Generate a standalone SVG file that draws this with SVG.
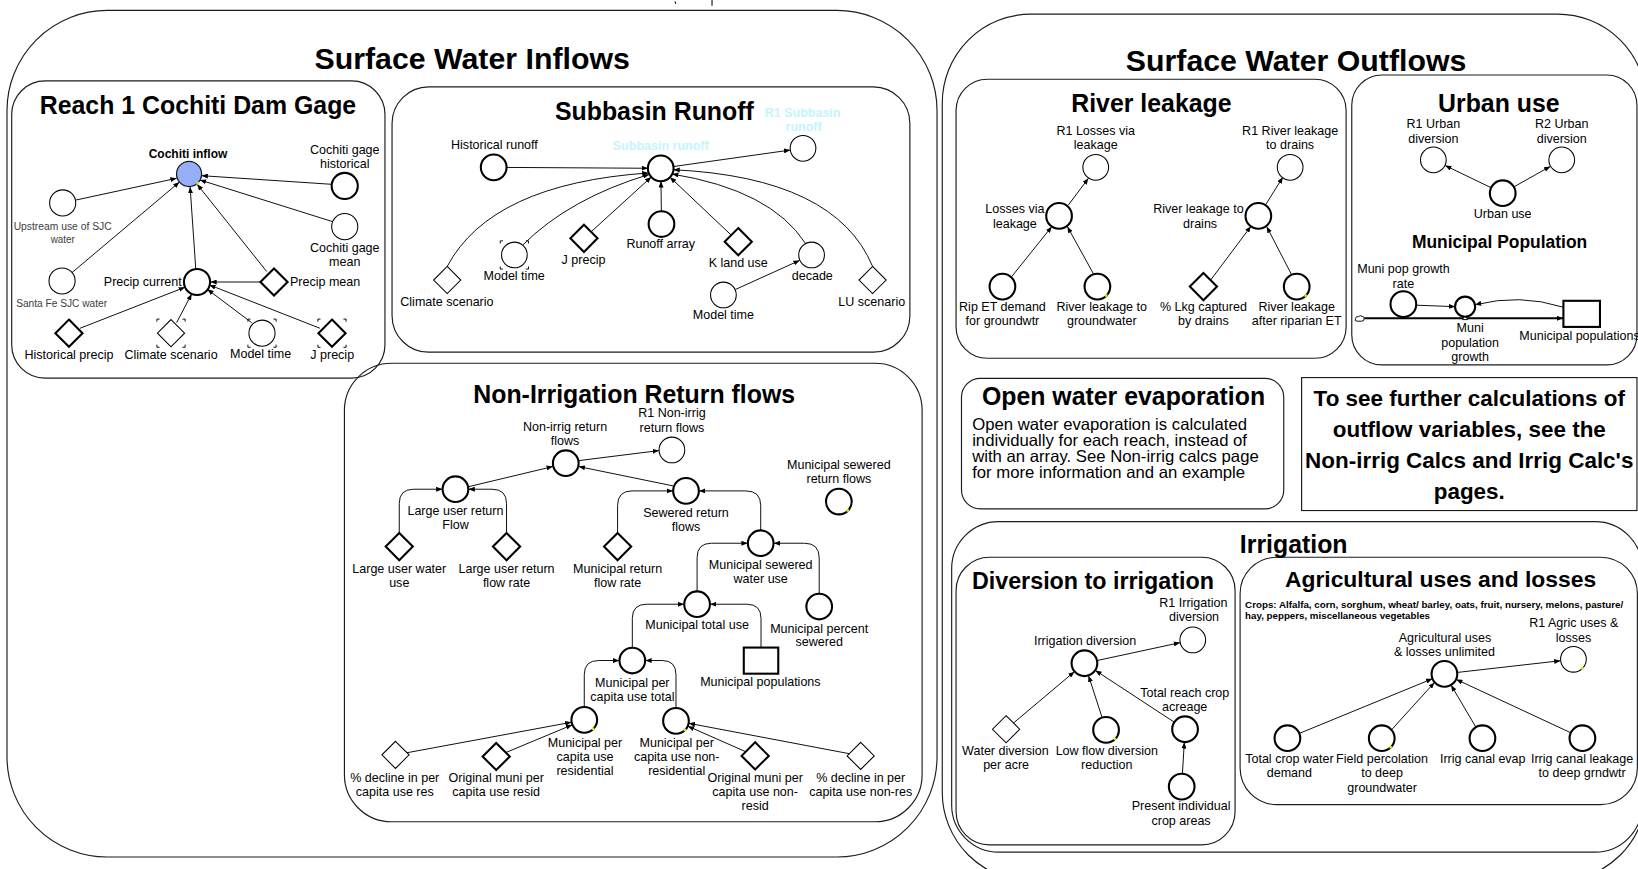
<svg xmlns="http://www.w3.org/2000/svg" width="1638" height="869" viewBox="0 0 1638 869">
<defs>
<style>
text{font-family:"Liberation Sans",Arial,Helvetica,sans-serif;fill:#000}
.l{font-size:12px;text-anchor:middle}
.ls{font-size:12px;text-anchor:start}
.le{font-size:12px;text-anchor:end}
.sm{font-size:11px;text-anchor:middle;fill:#3c3c3c}
.t1{font-size:29px;font-weight:bold;text-anchor:middle}
.t2{font-size:23.8px;font-weight:bold;text-anchor:middle}
.t3{font-size:16.7px;font-weight:bold;text-anchor:middle}
.big{font-size:21.5px;font-weight:bold;text-anchor:middle}
.body{font-size:16px;text-anchor:start}
.crops{font-size:9.2px;font-weight:bold;text-anchor:start}
.pale{font-size:12px;font-weight:bold;text-anchor:middle;fill:#c4f4fc}
.fr{fill:none;stroke:#1c1c1c;stroke-width:1.1}
.n{fill:#fff;stroke:#000;stroke-width:1}
.nb{fill:#fff;stroke:#000;stroke-width:2}
.c{fill:none;stroke:#000;stroke-width:0.9;marker-end:url(#ah)}
.pipe{fill:none;stroke:#000;stroke-width:2;marker-end:url(#ah)}
.yd{fill:#e6e600}
</style>
<marker id="ah" viewBox="0 0 10 8" refX="10" refY="4" markerWidth="6" markerHeight="4.8" markerUnits="userSpaceOnUse" orient="auto"><path d="M0,0 L10,4 L0,8 z" fill="#000"/></marker>
<path id="dm" d="M0,-13 L13,0 L0,13 L-13,0 z"/>
<path id="ghost" d="M-13.5,-11v-2.5h2.5 M11,-13.5h2.5v2.5 M13.5,11v2.5h-2.5 M-11,13.5h-2.5v-2.5" fill="none" stroke="#000" stroke-width="0.9"/>
</defs>
<rect x="0" y="0" width="1638" height="869" fill="#fff"/>
<g transform="scale(1.04464 1.04447)">

<!-- section frames -->
<g id="frames">
<path d="M646,1.5 l1,2 M681.6,0 v5.5" fill="none" stroke="#000" stroke-width="1"/>
<rect class="fr" x="6.7" y="10" width="890.3" height="810.5" rx="96"/>
<rect class="fr" x="11.2" y="77.5" width="357.3" height="284.5" rx="32"/>
<rect class="fr" x="375.3" y="83.2" width="495.7" height="254" rx="35"/>
<rect class="fr" x="329.7" y="347.8" width="553" height="439" rx="45"/>
<rect class="fr" x="902" y="13.5" width="674" height="830" rx="85"/>
<rect class="fr" x="915.2" y="75.9" width="373.4" height="267.1" rx="30"/>
<rect class="fr" x="1294" y="71.8" width="273" height="277.6" rx="29"/>
<rect class="fr" x="920.4" y="362.2" width="308.5" height="125" rx="18"/>
<rect class="fr" x="1246" y="361.5" width="321" height="127.3"/>
<rect class="fr" x="911" y="499.4" width="661" height="316.4" rx="45"/>
<rect class="fr" x="915.2" y="533.5" width="267.1" height="275.4" rx="32"/>
<rect class="fr" x="1187.1" y="533.5" width="380.3" height="236.8" rx="35"/>
</g>

<g id="titles">
<text class="t1" x="452" y="66.5">Surface Water Inflows</text>
<text class="t1" x="1240.7" y="67.7">Surface Water Outflows</text>
<text class="t2" x="189.5" y="109.5">Reach 1 Cochiti Dam Gage</text>
<text class="t2" x="626.4" y="114.5">Subbasin Runoff</text>
<text class="t2" x="607.1" y="385.4">Non-Irrigation Return flows</text>
<text class="t2" x="1102.2" y="106.9">River leakage</text>
<text class="t2" x="1434.8" y="106.9">Urban use</text>
<text class="t3" x="1435.5" y="237.7">Municipal Population</text>
<text class="t2" x="1075.5" y="388">Open water evaporation</text>
<text class="t2" x="1238.4" y="529.1">Irrigation</text>
<text class="t2" x="1046.2" y="564" style="font-size:22.3px">Diversion to irrigation</text>
<text class="t2" x="1379" y="561.6" style="font-size:21.9px">Agricultural uses and losses</text>
</g>

<g id="notes">
<text class="body"><tspan x="930.6" y="411.5">Open water evaporation is calculated</tspan><tspan x="930.6" y="426.8">individually for each reach, instead of</tspan><tspan x="930.6" y="442.1">with an array.  See Non-irrig calcs page</tspan><tspan x="930.6" y="457.4">for more information and an example</tspan></text>
<text class="big"><tspan x="1406.5" y="388.5">To see further calculations of</tspan><tspan x="1406.5" y="418.3">outflow variables, see the</tspan><tspan x="1406.5" y="448.1">Non-irrig Calcs and Irrig Calc's</tspan><tspan x="1406.5" y="477.5">pages.</tspan></text>
<text class="crops" x="1191.9" y="582.4" textLength="362" lengthAdjust="spacingAndGlyphs">Crops:  Alfalfa, corn, sorghum, wheat/ barley, oats, fruit, nursery, melons, pasture/</text>
<text class="crops" x="1191.9" y="592.9" textLength="177" lengthAdjust="spacingAndGlyphs">hay, peppers, miscellaneous vegetables</text>
</g>

<!-- links between variables -->
<g id="connectors">
<path class="c" d="M72.8,191.5 L169.1,170.7"/>
<path class="c" d="M69,260.9 L171.8,174.3"/>
<path class="c" d="M187.4,257.5 L182,179"/>
<path class="c" d="M255.3,260 L188.7,176.4"/>
<path class="c" d="M318.1,176.5 L193,168.2"/>
<path class="c" d="M318.4,212.2 L191.4,172.3"/>
<path class="c" d="M249.3,270 L201.4,270"/>
<path class="c" d="M76.6,314.3 L177.1,275"/>
<path class="c" d="M169.1,308.9 L183.5,281.4"/>
<path class="c" d="M240.9,308.9 L198.5,277"/>
<path class="c" d="M306.3,314.3 L200.4,272.8"/>

<path class="c" d="M484.6,160.3 L620.3,161.1"/>
<path class="c" d="M644.3,159.5 L756.4,143.7"/>
<path class="c" d="M633.1,201.9 L632.7,173.6"/>
<path class="c" d="M565.8,222 L623.4,169.5"/>
<path class="c" d="M700,225.1 L641.4,169.7"/>
<path class="c" d="M703.9,277.2 L765.5,249.3"/>
<path class="c" d="M428.1,255.1 Q470,176 620.7,165.6"/>
<path class="c" d="M500.5,234.5 Q545,190 621.4,167"/>
<path class="c" d="M771,233 Q738,182 643.4,166.6"/>
<path class="c" d="M835.3,255.1 Q800,170 644.7,162.5"/>

<path class="c" d="M554,441 L630.8,431.4"/>
<path class="c" d="M448.8,465.9 L529.2,446.7"/>
<path class="c" d="M644.3,465.2 L554,446.7"/>
<path class="c" d="M382.2,510.3 V482 Q382.2,468.4 396,468.4 H423.5"/>
<path class="c" d="M484.9,510.3 V482 Q484.9,468.4 471,468.4 H448.5"/>
<path class="c" d="M591.2,510.3 V484 Q591.2,470 605,470 H644.2"/>
<path class="c" d="M728.2,507.6 V484 Q728.2,470 714,470 H669.2"/>
<path class="c" d="M667.3,566 V534 Q667.3,520.1 681,520.1 H715.7"/>
<path class="c" d="M784.2,568.2 V534 Q784.2,520.1 770,520.1 H740.7"/>
<path class="c" d="M605.3,619.9 V592 Q605.3,578.5 619,578.5 H654.8"/>
<path class="c" d="M728.5,620 V592 Q728.5,578.5 715,578.5 H679.8"/>
<path class="c" d="M559.3,676.7 V646 Q559.3,632.4 573,632.4 H592.8"/>
<path class="c" d="M647.1,677.7 V646 Q647.1,632.4 634,632.4 H617.8"/>
<path class="c" d="M389.6,720.7 L547,691.5"/>
<path class="c" d="M484.2,720.5 L547.8,694"/>
<path class="c" d="M713.9,719.7 L658.5,695.3"/>
<path class="c" d="M813,721.6 L659.4,692.5"/>

<path class="c" d="M1022.8,196.2 L1041.9,170.7"/>
<path class="c" d="M968.5,264.8 L1006.8,217"/>
<path class="c" d="M1047.3,263.2 L1021.8,217"/>
<path class="c" d="M1212,195.3 L1228,169.7"/>
<path class="c" d="M1159,268 L1197.5,216.6"/>
<path class="c" d="M1236.5,263.2 L1212.6,217"/>

<path class="c" d="M1427.2,179.6 L1383.4,158.5"/>
<path class="c" d="M1449.4,178.8 L1484.1,159.3"/>
<path class="pipe" d="M1306,304.7 H1496.3"/>
<path class="c" d="M1355.8,292.2 L1392.9,293.6"/>
<path class="c" d="M1496,294 Q1455,281 1412,291.8"/>

<path class="c" d="M1050.3,632.4 L1129.6,615.3"/>
<path class="c" d="M970.1,692.3 L1028.5,643.1"/>
<path class="c" d="M1055,686.9 L1042,646.9"/>
<path class="c" d="M1123.9,691.3 L1048.6,641.9"/>
<path class="c" d="M1131.9,740.6 L1133.7,710.7"/>

<path class="c" d="M1395.1,643.8 L1493.8,632.6"/>
<path class="c" d="M1244,702.1 L1371.1,649.9"/>
<path class="c" d="M1332.2,698.6 L1373.2,653.4"/>
<path class="c" d="M1412.7,696 L1389.1,656"/>
<path class="c" d="M1503.5,701.5 L1394,650.5"/>
</g>

<!-- Reach 1 Cochiti Dam Gage -->
<g id="cochiti-inflow"><circle cx="181" cy="166.6" r="12" fill="#96aef7" stroke="#1a1a1a" stroke-width="1.2"/><rect class="yd" x="188" y="174.3" width="2.4" height="2.4"/><text x="180" y="151" style="font-size:11.5px;font-weight:bold;text-anchor:middle">Cochiti inflow</text></g>
<g id="cochiti-gage-historical"><circle class="nb" cx="330" cy="178" r="12.5"/><text class="l"><tspan x="330" y="147.4">Cochiti gage</tspan><tspan x="330" y="160.8">historical</tspan></text></g>
<g id="upstream-use-sjc"><circle class="n" cx="60" cy="194.3" r="12.5"/><text class="sm" x="60" y="220" textLength="93.8" lengthAdjust="spacingAndGlyphs">Upstream use of SJC</text><text class="sm" x="60" y="232.6" textLength="23" lengthAdjust="spacingAndGlyphs">water</text></g>
<g id="cochiti-gage-mean"><circle class="n" cx="330" cy="217" r="12.5"/><text class="l"><tspan x="330" y="241">Cochiti gage</tspan><tspan x="330" y="254.6">mean</tspan></text></g>
<g id="santa-fe-sjc"><circle class="n" cx="59.4" cy="269" r="12.5"/><text class="sm" x="59" y="294" textLength="87.1" lengthAdjust="spacingAndGlyphs">Santa Fe SJC water</text></g>
<g id="precip-current"><circle class="nb" cx="188.6" cy="270" r="12.5"/><text class="le" x="174" y="274">Precip current</text></g>
<g id="precip-mean"><use href="#dm" x="262.3" y="270" class="nb"/><text class="ls" x="277.6" y="274">Precip mean</text></g>
<g id="historical-precip"><use href="#dm" x="66" y="319" class="nb"/><text class="l" x="66" y="343.7">Historical precip</text></g>
<g id="climate-scenario-r1"><use href="#dm" x="163.7" y="319" class="n"/><use href="#ghost" x="163.7" y="319"/><text class="l" x="163.7" y="343.7">Climate scenario</text></g>
<g id="model-time-r1"><circle class="n" cx="250.8" cy="319" r="12.5"/><use href="#ghost" x="250.8" y="319"/><text class="l" x="249.5" y="343">Model time</text></g>
<g id="j-precip-r1"><use href="#dm" x="317.8" y="319" class="nb"/><use href="#ghost" x="317.8" y="319"/><text class="l" x="318" y="343.7">J precip</text></g>

<!-- Subbasin Runoff -->
<g id="subbasin-runoff"><circle class="nb" cx="632.5" cy="161.2" r="12.3"/><text class="pale" x="632.5" y="143.6">Subbasin runoff</text></g>
<g id="r1-subbasin-runoff"><circle class="n" cx="768.7" cy="142" r="12.3"/><text class="pale"><tspan x="768.3" y="112.3">R1 Subbasin</tspan><tspan x="769.3" y="125.5">runoff</tspan></text></g>
<g id="historical-runoff"><circle class="nb" cx="472.6" cy="160.2" r="12.3"/><text class="l" x="473.3" y="142.7">Historical runoff</text></g>
<g id="runoff-array"><circle class="nb" cx="633.2" cy="214.5" r="12.3"/><text class="l" x="632.5" y="237.7">Runoff array</text></g>
<g id="j-precip-sb"><use href="#dm" x="559" y="228.2" class="nb"/><text class="l" x="558.6" y="253.1">J precip</text></g>
<g id="model-time-sb"><circle class="n" cx="492.4" cy="244.1" r="12.3"/><use href="#ghost" x="492.4" y="244.1"/><text class="l" x="492.2" y="268.1">Model time</text></g>
<g id="k-land-use"><use href="#dm" x="706.7" y="231.4" class="nb"/><text class="l" x="706.7" y="255.3">K land use</text></g>
<g id="decade"><circle class="n" cx="776.9" cy="244.1" r="12.3"/><text class="l" x="777.6" y="268.1">decade</text></g>
<g id="model-time-sb2"><circle class="n" cx="692.5" cy="282.4" r="12.3"/><text class="l" x="692.5" y="305.4">Model time</text></g>
<g id="climate-scenario-sb"><use href="#dm" x="428.1" y="268.1" class="n"/><text class="l" x="427.8" y="293">Climate scenario</text></g>
<g id="lu-scenario"><use href="#dm" x="835.3" y="268.1" class="n"/><text class="l" x="834.5" y="293">LU scenario</text></g>

<!-- Non-Irrigation Return flows -->
<g id="non-irrig-return-flows"><circle class="nb" cx="541.6" cy="443.5" r="12.3"/><text class="l"><tspan x="540.9" y="412.3">Non-irrig return</tspan><tspan x="540.9" y="426">flows</tspan></text></g>
<g id="r1-non-irrig-return-flows"><circle class="n" cx="643.2" cy="430.8" r="12.3"/><text class="l"><tspan x="643.2" y="398.9">R1 Non-irrig</tspan><tspan x="643.2" y="413.2">return flows</tspan></text></g>
<g id="large-user-return-flow"><circle class="nb" cx="436" cy="468.4" r="12.3"/><text class="l"><tspan x="436" y="493">Large user return</tspan><tspan x="436" y="506.7">Flow</tspan></text></g>
<g id="sewered-return-flows"><circle class="nb" cx="656.7" cy="470" r="12.3"/><text class="l"><tspan x="656.7" y="494.6">Sewered return</tspan><tspan x="656.7" y="508.3">flows</tspan></text></g>
<g id="municipal-sewered-return-flows"><circle class="nb" cx="803" cy="480.2" r="12.3"/><rect class="yd" x="810.3" y="487.6" width="2.4" height="2.4"/><text class="l"><tspan x="803" y="449.3">Municipal sewered</tspan><tspan x="803" y="462.7">return flows</tspan></text></g>
<g id="large-user-water-use"><use href="#dm" x="382.2" y="523.3" class="nb"/><text class="l"><tspan x="382.2" y="548.8">Large user water</tspan><tspan x="382.2" y="562.5">use</tspan></text></g>
<g id="large-user-return-flow-rate"><use href="#dm" x="484.9" y="523.3" class="nb"/><text class="l"><tspan x="484.9" y="548.8">Large user return</tspan><tspan x="484.9" y="562.5">flow rate</tspan></text></g>
<g id="municipal-return-flow-rate"><use href="#dm" x="591.2" y="523.3" class="nb"/><text class="l"><tspan x="591.2" y="548.8">Municipal return</tspan><tspan x="591.2" y="562.5">flow rate</tspan></text></g>
<g id="municipal-sewered-water-use"><circle class="nb" cx="728.2" cy="520.1" r="12.3"/><text class="l"><tspan x="728.2" y="545">Municipal sewered</tspan><tspan x="728.2" y="558.4">water use</tspan></text></g>
<g id="municipal-total-use"><circle class="nb" cx="667.3" cy="578.5" r="12.3"/><text class="l" x="667.3" y="602.4">Municipal total use</text></g>
<g id="municipal-percent-sewered"><circle class="nb" cx="784.2" cy="580.7" r="12.3"/><text class="l"><tspan x="784.2" y="605.6">Municipal percent</tspan><tspan x="784.2" y="618.4">sewered</tspan></text></g>
<g id="municipal-per-capita-total"><circle class="nb" cx="605.3" cy="632.4" r="12.3"/><text class="l"><tspan x="605.3" y="657.3">Municipal per</tspan><tspan x="605.3" y="670.7">capita use total</tspan></text></g>
<g id="municipal-populations-nr"><rect class="nb" x="712" y="620" width="33" height="25"/><text class="l" x="727.9" y="656.7">Municipal populations</text></g>
<g id="municipal-per-capita-res"><circle class="nb" cx="559.3" cy="689.2" r="12.3"/><rect class="yd" x="566.6" y="696.6" width="2.4" height="2.4"/><text class="l"><tspan x="560" y="715.4">Municipal per</tspan><tspan x="560" y="728.8">capita use</tspan><tspan x="560" y="741.9">residential</tspan></text></g>
<g id="municipal-per-capita-nonres"><circle class="nb" cx="647.1" cy="690.2" r="12.3"/><rect class="yd" x="654.4" y="697.6" width="2.4" height="2.4"/><text class="l"><tspan x="647.8" y="715.4">Municipal per</tspan><tspan x="647.8" y="728.8">capita use non-</tspan><tspan x="647.8" y="741.9">residential</tspan></text></g>
<g id="pct-decline-res"><use href="#dm" x="378.6" y="722.7" class="n"/><text class="l"><tspan x="377.9" y="748.3">% decline in per</tspan><tspan x="377.9" y="762">capita use res</tspan></text></g>
<g id="original-muni-resid"><use href="#dm" x="475" y="724.3" class="nb"/><text class="l"><tspan x="475" y="748.3">Original muni per</tspan><tspan x="475" y="762">capita use resid</tspan></text></g>
<g id="original-muni-nonresid"><use href="#dm" x="722.9" y="723.7" class="nb"/><text class="l"><tspan x="722.9" y="748.3">Original muni per</tspan><tspan x="722.9" y="762">capita use non-</tspan><tspan x="722.9" y="775.4">resid</tspan></text></g>
<g id="pct-decline-nonres"><use href="#dm" x="823.9" y="723.7" class="n"/><text class="l"><tspan x="823.9" y="748.3">% decline in per</tspan><tspan x="823.9" y="762">capita use non-res</tspan></text></g>

<!-- River leakage -->
<g id="losses-via-leakage"><circle class="nb" cx="1013.8" cy="206.7" r="12.3"/><text class="l"><tspan x="971.5" y="204.2">Losses via</tspan><tspan x="971.5" y="217.9">leakage</tspan></text></g>
<g id="r1-losses-via-leakage"><circle class="n" cx="1048.9" cy="160.2" r="12.3"/><text class="l"><tspan x="1048.9" y="129.2">R1 Losses via</tspan><tspan x="1048.9" y="142.9">leakage</tspan></text></g>
<g id="rip-et-demand"><circle class="nb" cx="959.6" cy="274.4" r="12.3"/><text class="l"><tspan x="959.6" y="297.4">Rip ET demand</tspan><tspan x="959.6" y="311.1">for groundwtr</tspan></text></g>
<g id="river-leakage-to-gw"><circle class="nb" cx="1050.5" cy="274.4" r="12.3"/><rect class="yd" x="1057.8" y="281.8" width="2.4" height="2.4"/><text class="l"><tspan x="1054.7" y="297.4">River leakage to</tspan><tspan x="1054.7" y="311.1">groundwater</tspan></text></g>
<g id="r1-river-leakage-drains"><circle class="n" cx="1235" cy="160.2" r="12.3"/><text class="l"><tspan x="1235" y="129.2">R1 River leakage</tspan><tspan x="1235" y="142.9">to drains</tspan></text></g>
<g id="river-leakage-drains"><circle class="nb" cx="1204.6" cy="206.7" r="12.3"/><text class="l"><tspan x="1147.2" y="204.2">River leakage to</tspan><tspan x="1148.8" y="217.9">drains</tspan></text></g>
<g id="pct-lkg-captured"><use href="#dm" x="1152" y="274.4" class="nb"/><text class="l"><tspan x="1152" y="297.4">% Lkg captured</tspan><tspan x="1152" y="311.1">by drains</tspan></text></g>
<g id="river-leakage-after-et"><circle class="nb" cx="1241.3" cy="274.4" r="12.3"/><rect class="yd" x="1248.6" y="281.8" width="2.4" height="2.4"/><text class="l"><tspan x="1241.3" y="297.4">River leakage</tspan><tspan x="1241.3" y="311.1">after riparian ET</tspan></text></g>

<!-- Urban use -->
<g id="r1-urban-diversion"><circle class="n" cx="1372.1" cy="153.1" r="12.3"/><text class="l"><tspan x="1372.1" y="122.8">R1 Urban</tspan><tspan x="1372.1" y="136.5">diversion</tspan></text></g>
<g id="r2-urban-diversion"><circle class="n" cx="1495" cy="153.1" r="12.3"/><text class="l"><tspan x="1495" y="122.8">R2 Urban</tspan><tspan x="1495" y="136.5">diversion</tspan></text></g>
<g id="urban-use"><circle class="nb" cx="1438.5" cy="185" r="12.3"/><text class="l" x="1438.5" y="209">Urban use</text></g>

<!-- Municipal Population -->
<g id="muni-pop-source"><path d="M1299,307.5 q-2.5,0 -1.5,-2.5 q0.5,-2.5 3,-1.8 q1.5,-1.8 3.5,-0.3 q2.5,0.3 1.8,2.5 q0.2,2.1 -2.3,2.1 z" fill="#fff" stroke="#000" stroke-width="0.9"/></g>
<g id="muni-pop-growth-rate"><circle class="nb" cx="1343.4" cy="291.2" r="12.3"/><text class="l"><tspan x="1343.5" y="261.6">Muni pop growth</tspan><tspan x="1343.4" y="275.3">rate</tspan></text></g>
<g id="muni-population-growth"><path d="M1400,306 L1405,306 L1402.5,301.5 z" fill="#fff" stroke="#000" stroke-width="0.9"/><circle class="nb" cx="1402.5" cy="293.6" r="9.6"/><text class="l"><tspan x="1407.3" y="318">Muni</tspan><tspan x="1407.3" y="331.8">population</tspan><tspan x="1407.3" y="345.2">growth</tspan></text></g>
<g id="municipal-populations-stock"><rect class="nb" x="1496.6" y="288" width="35" height="25"/><text class="l" x="1512" y="325.5">Municipal populations</text></g>

<!-- Diversion to irrigation -->
<g id="irrigation-diversion"><circle class="nb" cx="1038.1" cy="635" r="12.3"/><text class="l" x="1038.7" y="617.5">Irrigation diversion</text></g>
<g id="r1-irrigation-diversion"><circle class="n" cx="1141.8" cy="612.7" r="12.3"/><text class="l"><tspan x="1142.4" y="580.8">R1 Irrigation</tspan><tspan x="1143" y="594.5">diversion</tspan></text></g>
<g id="water-diversion-per-acre"><use href="#dm" x="963.1" y="698.2" class="n"/><text class="l"><tspan x="962.4" y="722.8">Water diversion</tspan><tspan x="963.1" y="736.5">per acre</tspan></text></g>
<g id="low-flow-diversion-reduction"><circle class="nb" cx="1058.8" cy="698.8" r="12.3"/><rect class="yd" x="1066.1" y="706.2" width="2.4" height="2.4"/><text class="l"><tspan x="1059.5" y="722.8">Low flow diversion</tspan><tspan x="1059.5" y="736.5">reduction</tspan></text></g>
<g id="total-reach-crop-acreage"><circle class="nb" cx="1134.4" cy="698.2" r="12.3"/><text class="l"><tspan x="1134.1" y="667.6">Total reach crop</tspan><tspan x="1134.1" y="680.6">acreage</tspan></text></g>
<g id="present-crop-areas"><circle class="nb" cx="1131.2" cy="753.1" r="12.3"/><text class="l"><tspan x="1130.6" y="776">Present individual</tspan><tspan x="1130.6" y="789.8">crop areas</tspan></text></g>

<!-- Agricultural uses and losses -->
<g id="agric-uses-unlimited"><circle class="nb" cx="1382.7" cy="645.2" r="12.3"/><text class="l"><tspan x="1383.3" y="614.3">Agricultural uses</tspan><tspan x="1382.7" y="628">&amp; losses unlimited</tspan></text></g>
<g id="r1-agric-uses"><circle class="n" cx="1506.2" cy="631.2" r="12.3"/><rect class="yd" x="1513.5" y="638.6" width="2.4" height="2.4"/><text class="l"><tspan x="1506.5" y="600.5">R1 Agric uses &amp;</tspan><tspan x="1506.2" y="614.3">losses</tspan></text></g>
<g id="total-crop-water-demand"><circle class="nb" cx="1232.4" cy="706.8" r="12.3"/><text class="l"><tspan x="1234.3" y="730.7">Total crop water</tspan><tspan x="1234.3" y="744.1">demand</tspan></text></g>
<g id="field-percolation"><circle class="nb" cx="1322.7" cy="706.8" r="12.3"/><rect class="yd" x="1330" y="714.2" width="2.4" height="2.4"/><text class="l"><tspan x="1323" y="730.7">Field percolation</tspan><tspan x="1323" y="744.1">to deep</tspan><tspan x="1323" y="757.9">groundwater</tspan></text></g>
<g id="irrig-canal-evap"><circle class="nb" cx="1419.1" cy="706.8" r="12.3"/><text class="l" x="1419.4" y="730.7">Irrig canal evap</text></g>
<g id="irrig-canal-leakage"><circle class="nb" cx="1514.8" cy="706.8" r="12.3"/><text class="l"><tspan x="1514.5" y="730.7">Irrig canal leakage</tspan><tspan x="1514.5" y="744.1">to deep grndwtr</tspan></text></g>

</g>
</svg>
